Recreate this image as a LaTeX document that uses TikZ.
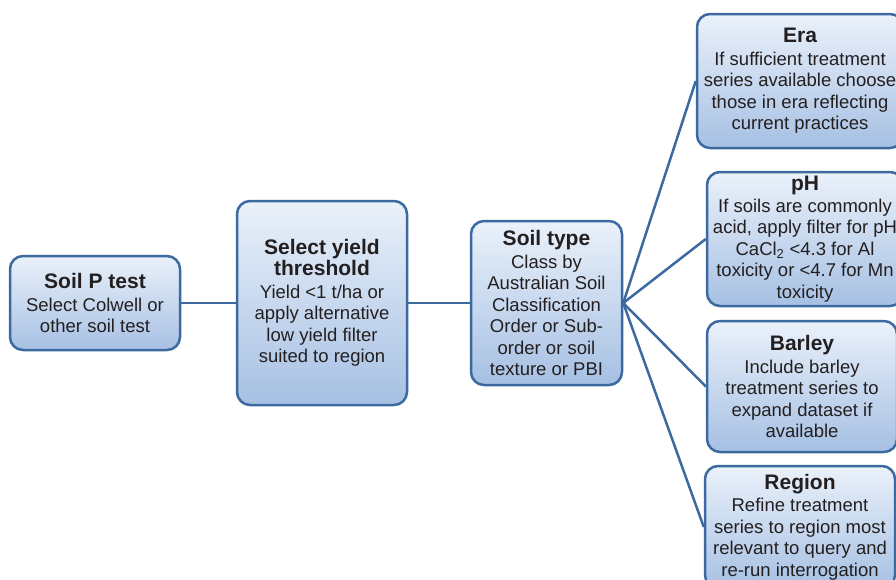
\documentclass[tikz,border=0pt]{standalone}
\usepackage{fontspec}
\setmainfont{Liberation Sans}
\definecolor{bordc}{RGB}{60,106,160}
\definecolor{topc}{RGB}{234,241,250}
\definecolor{botc}{RGB}{166,192,227}
\definecolor{txtc}{RGB}{35,31,32}
\newcommand{\ttl}[1]{{\fontsize{21}{23}\selectfont\bfseries #1}}
\tikzset{
  box/.style={draw=bordc, line width=2.5pt, rounded corners=13pt,
    top color=topc, bottom color=botc, align=center, text=txtc,
    inner sep=0pt, font=\fontsize{18.5}{21.5}\selectfont},
  link/.style={draw=bordc, line width=2.5pt}
}
\begin{document}
\begin{tikzpicture}[x=1pt,y=-1pt]
\useasboundingbox (0,0) rectangle (896,579);
\clip (0,0) rectangle (896,579);
\node[box, minimum width=170pt, minimum height=94pt] (soilp) at (95,303)
  {\ttl{Soil P test}\\[1pt] Select Colwell or\\ other soil test};
\node[box, minimum width=170pt, minimum height=204pt] (yield) at (322,303)
  {\ttl{Select yield}\\ \ttl{threshold}\\[1pt] Yield <1 t/ha or\\ apply alternative\\ low yield filter\\ suited to region};
\node[box, minimum width=151pt, minimum height=164pt] (soiltype) at (546.5,303)
  {\ttl{Soil type}\\[1pt] Class by\\ Australian Soil\\ Classification\\ Order or Sub-\\ order or soil\\ texture or PBI};
\node[box, minimum width=206pt, minimum height=134pt] (era) at (800,81)
  {\ttl{Era}\\[1pt] If sufficient treatment\\ series available choose\\ those in era reflecting\\ current practices};
\node[box, minimum width=196pt, minimum height=134pt] (ph) at (805,239)
  {\ttl{pH}\\[0pt] If soils are commonly\\ acid, apply filter for pH\\ CaCl\textsubscript{2} <4.3 for Al\\ toxicity or <4.7 for Mn\\ toxicity};
\node[box, minimum width=190pt, minimum height=131pt] (barley) at (802,386.5)
  {\ttl{Barley}\\[1pt] Include barley\\ treatment series to\\ expand dataset if\\ available};
\node[box, minimum width=190pt, minimum height=122pt] (region) at (800,527)
  {\ttl{Region}\\[1pt] Refine treatment\\ series to region most\\ relevant to query and\\ re-run interrogation};
\draw[link] (soilp.east) -- (yield.west);
\draw[link] (yield.east) -- (soiltype.west);
\draw[link] (soiltype.east) -- (era.west);
\draw[link] (soiltype.east) -- (ph.west);
\draw[link] (soiltype.east) -- (barley.west);
\draw[link] (soiltype.east) -- (region.west);
\end{tikzpicture}
\end{document}
